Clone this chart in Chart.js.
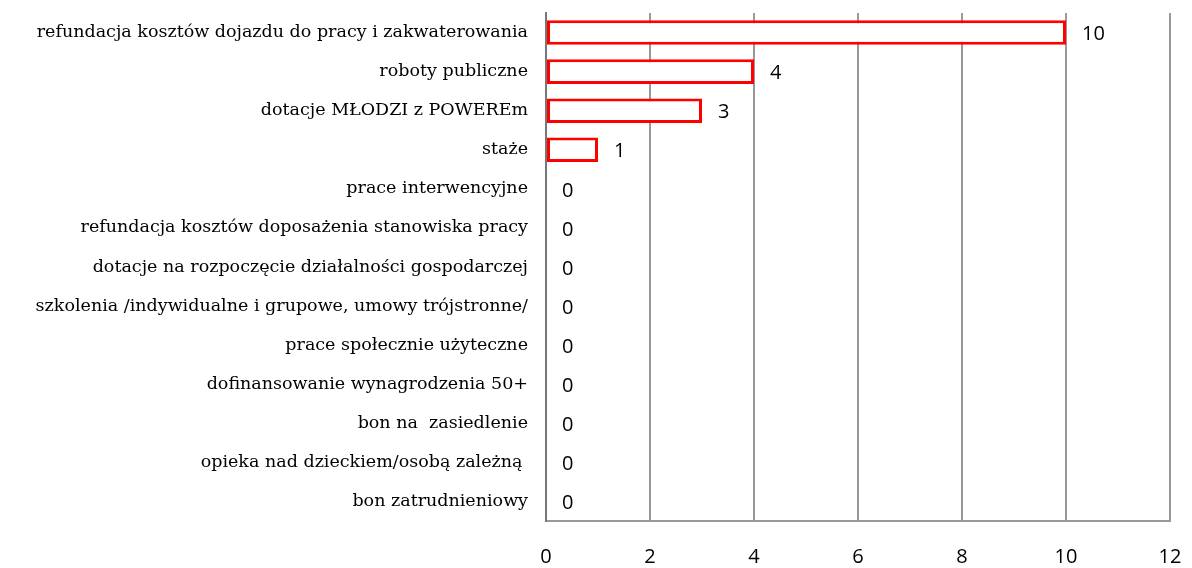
<!DOCTYPE html>
<html>
<head>
<meta charset="utf-8">
<script src="https://cdn.jsdelivr.net/npm/chart.js@4/dist/chart.umd.min.js"></script>
<style>
  html, body { margin: 0; padding: 0; background: #fff; }
  #wrap { width: 1192px; height: 568px; position: relative; }
</style>
</head>
<body>
<div id="wrap"><canvas id="chart"></canvas></div>
<script>
// categories, top to bottom
const categories = [
  'refundacja kosztów dojazdu do pracy i zakwaterowania',
  'roboty publiczne',
  'dotacje MŁODZI z POWEREm',
  'staże',
  'prace interwencyjne',
  'refundacja kosztów doposażenia stanowiska pracy',
  'dotacje na rozpoczęcie działalności gospodarczej',
  'szkolenia /indywidualne i grupowe, umowy trójstronne/',
  'prace społecznie użyteczne',
  'dofinansowanie wynagrodzenia 50+',
  'bon na  zasiedlenie',
  'opieka nad dzieckiem/osobą zależną ',
  'bon zatrudnieniowy'
];
const values = [10, 4, 3, 1, 0, 0, 0, 0, 0, 0, 0, 0, 0];
const xTicks = [0, 2, 4, 6, 8, 10, 12];

// value labels right of each bar
const valueLabels = {
  id: 'valueLabels',
  afterDatasetsDraw(chart) {
    const ctx = chart.ctx;
    const meta = chart.getDatasetMeta(0);
    ctx.save();
    ctx.font = '20px "Open Sans"';
    ctx.fillStyle = '#000';
    ctx.textAlign = 'left';
    ctx.textBaseline = 'middle';
    meta.data.forEach((bar, i) => {
      ctx.fillText(String(values[i]), bar.x + 16, bar.y + 2);
    });
    ctx.restore();
  }
};

const ctx = document.getElementById('chart').getContext('2d');
new Chart(ctx, {
  type: 'bar',
  data: {
    labels: categories,
    datasets: [{
      data: values,
      backgroundColor: '#ffffff',
      borderColor: '#ff0000',
      borderWidth: 3,
      borderSkipped: false,
      categoryPercentage: 1,
      barPercentage: 0.63
    }]
  },
  options: {
    indexAxis: 'y',
    responsive: true,
    maintainAspectRatio: false,
    animation: false,
    layout: { padding: { top: 13, right: 22, left: 0, bottom: 0 } },
    plugins: {
      legend: { display: false },
      tooltip: { enabled: false }
    },
    scales: {
      x: {
        min: 0,
        max: 12,
        afterBuildTicks(axis) { axis.ticks = xTicks.map(v => ({ value: v })); },
        afterFit(axis) {
          axis.height = 47;
          axis.paddingLeft = 0;
          axis.paddingRight = 0;
        },
        grid: {
          color: '#999999',
          lineWidth: 2,
          drawTicks: false
        },
        border: { color: '#999999', width: 2 },
        ticks: {
          color: '#000',
          padding: 24,
          font: { family: 'Open Sans', size: 20 }
        }
      },
      y: {
        afterFit(axis) {
          axis.width = 546;
          axis.paddingTop = 0;
          axis.paddingBottom = 0;
        },
        grid: { display: false, drawTicks: false },
        border: { color: '#777777', width: 2 },
        ticks: {
          color: '#000',
          padding: 18,
          autoSkip: false,
          font: { family: 'DejaVu Serif', size: 17.5 }
        }
      }
    }
  },
  plugins: [valueLabels]
});
</script>
</body>
</html>
